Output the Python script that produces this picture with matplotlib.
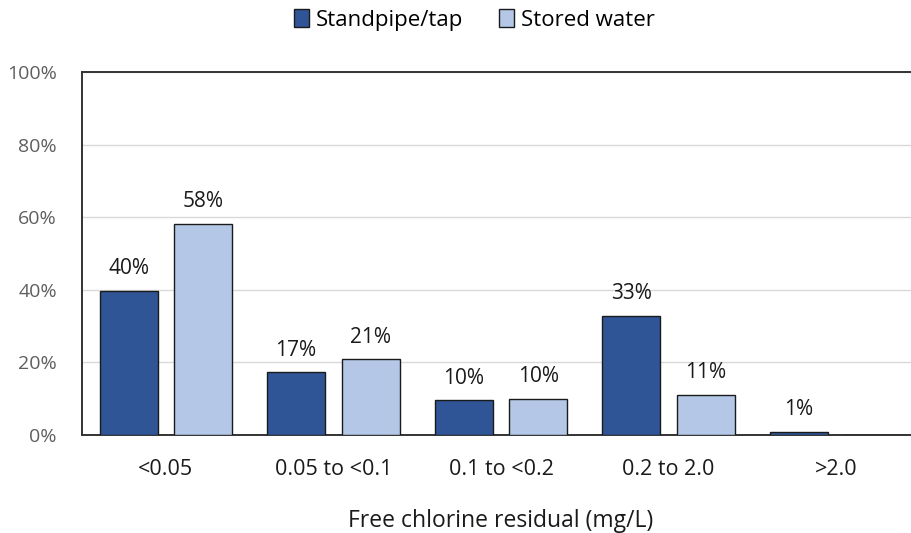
import numpy as np
import matplotlib.pyplot as plt

categories = ['<0.05', '0.05 to <0.1', '0.1 to <0.2', '0.2 to 2.0', '>2.0']
standpipe = [39.8, 17.3, 9.6, 32.8, 0.8]
stored = [58.2, 20.8, 9.9, 11.0, 0.0]
y_ticks = [0, 20, 40, 60, 80, 100]

plt.rcParams['font.family'] = ['Open Sans', 'DejaVu Sans']

fig = plt.figure(figsize=(9.12, 5.33), dpi=100)
# axes runs slightly past the right edge of the figure, as in the reference
ax = fig.add_axes([82 / 912, 98 / 533, 838 / 912, 363 / 533])

x = np.arange(len(categories))
w = 0.346
off = 0.2225
b1 = ax.bar(x - off, standpipe, w, color='#2F5597', edgecolor='#1a1a1a',
            linewidth=1.0, label='Standpipe/tap', zorder=3)
b2 = ax.bar(x + off, stored, w, color='#B4C7E7', edgecolor='#1a1a1a',
            linewidth=1.0, label='Stored water', zorder=3)

for bars, vals in ((b1, standpipe), (b2, stored)):
    for rect, v in zip(bars, vals):
        if v <= 0:
            continue
        ax.text(rect.get_x() + rect.get_width() / 2, v + 3.2, f'{round(v)}%',
                ha='center', va='bottom', fontsize=15, color='#1a1a1a')

ax.set_xlim(-0.5, len(categories) - 0.5)
ax.set_ylim(0, 100)
ax.set_yticks(y_ticks)
ax.set_yticklabels([f'{t}%' for t in y_ticks], fontsize=14, color='#5f5f5f')
ax.set_xticks(x)
ax.set_xticklabels(categories, fontsize=15.5, color='#1a1a1a')
ax.tick_params(axis='both', length=0)
ax.tick_params(axis='y', pad=18)
ax.tick_params(axis='x', pad=17)

ax.grid(axis='y', color='#d9d9d9', linewidth=1.0, zorder=0)
for s in ('left', 'top', 'bottom'):
    ax.spines[s].set_color('#333333')
    ax.spines[s].set_linewidth(1.4)
ax.spines['right'].set_visible(False)

ax.set_xlabel('Free chlorine residual (mg/L)', fontsize=16.5, color='#1a1a1a',
              labelpad=21)

fig.legend(handles=[b1, b2], loc='center', bbox_to_anchor=(0.52, 1 - 20 / 533),
           ncol=2, frameon=False, fontsize=16, handlelength=0.7,
           handleheight=0.9, handletextpad=0.3, columnspacing=1.6)

fig.savefig('out.png', dpi=100)
